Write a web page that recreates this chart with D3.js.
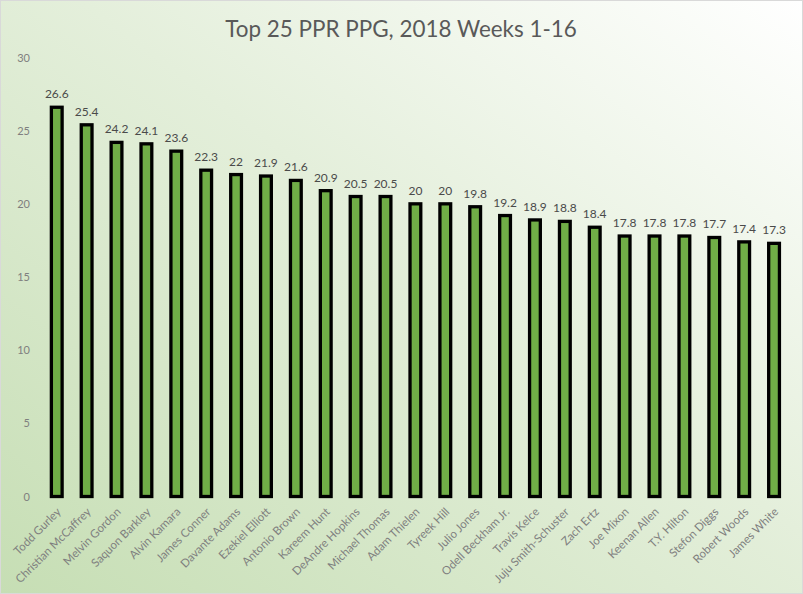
<!DOCTYPE html>
<html>
<head>
<meta charset="utf-8">
<script src="https://cdn.jsdelivr.net/npm/d3@7"></script>
<style>
  html, body { margin: 0; padding: 0; background: #fff; }
  svg { display: block; }
</style>
</head>
<body>
<script>
const players = ["Todd Gurley","Christian McCaffrey","Melvin Gordon","Saquon Barkley","Alvin Kamara","James Conner","Davante Adams","Ezekiel Elliott","Antonio Brown","Kareem Hunt","DeAndre Hopkins","Michael Thomas","Adam Thielen","Tyreek Hill","Julio Jones","Odell Beckham Jr.","Travis Kelce","Juju Smith-Schuster","Zach Ertz","Joe Mixon","Keenan Allen","T.Y. Hilton","Stefon Diggs","Robert Woods","James White"];
const ppg = [26.6,25.4,24.2,24.1,23.6,22.3,22,21.9,21.6,20.9,20.5,20.5,20,20,19.8,19.2,18.9,18.8,18.4,17.8,17.8,17.8,17.7,17.4,17.3];
const yTicks = [0,5,10,15,20,25,30];
const title = "Top 25 PPR PPG, 2018 Weeks 1-16";

const W = 803, H = 594;
const font = "Lato, 'Open Sans', sans-serif";
const svg = d3.select("body").append("svg").attr("width", W).attr("height", H);

const defs = svg.append("defs");
const grad = defs.append("linearGradient").attr("id", "bg")
  .attr("x1", "0").attr("y1", "1").attr("x2", "1").attr("y2", "0");
grad.append("stop").attr("offset", "0").attr("stop-color", "#c6deb4");
grad.append("stop").attr("offset", "0.55").attr("stop-color", "#e4efdb");
grad.append("stop").attr("offset", "1").attr("stop-color", "#ffffff");

svg.append("rect").attr("x", 0.5).attr("y", 0.5).attr("width", W - 1).attr("height", H - 1)
  .attr("fill", "url(#bg)").attr("stroke", "#d9d9d9").attr("stroke-width", 1);

const x = d3.scaleBand().domain(players).range([41.8, 789]).paddingInner(0.64).paddingOuter(0.32);
const y = d3.scaleLinear().domain([0, 30]).range([496.5, 57.5]);

// title
const t = svg.append("text").attr("x", 401).attr("y", 37).attr("text-anchor", "middle")
  .attr("font-family", font).attr("font-size", 21).attr("fill", "#595959").text(title);
const tw = t.node().getComputedTextLength();
t.attr("font-size", 21 * 352 / tw);

// y axis (labels only)
const yAxis = d3.axisLeft(y).tickValues(yTicks).tickSize(0).tickPadding(0);
const ya = svg.append("g").attr("transform", "translate(30,0)").call(yAxis);
ya.select(".domain").remove();
ya.selectAll("text").attr("font-family", font).attr("font-size", 11).attr("fill", "#7f7f7f");

// bars
svg.append("g").selectAll("rect").data(ppg).join("rect")
  .attr("x", (d, i) => x(players[i]))
  .attr("y", d => y(d))
  .attr("width", x.bandwidth())
  .attr("height", d => y(0) - y(d))
  .attr("fill", "#70ad47").attr("stroke", "#000").attr("stroke-width", 3.3);

// value labels
svg.append("g").selectAll("text").data(ppg).join("text")
  .attr("x", (d, i) => x(players[i]) + x.bandwidth() / 2)
  .attr("y", d => y(d) - 9)
  .attr("text-anchor", "middle")
  .attr("font-family", font).attr("font-size", 12).attr("fill", "#4a4a4a")
  .text(d => d);

// x axis labels
const xAxis = d3.axisBottom(x).tickSize(0).tickPadding(0);
const xa = svg.append("g").attr("transform", `translate(0,${y(0)})`).call(xAxis);
xa.select(".domain").remove();
xa.selectAll("text")
  .attr("font-family", font).attr("font-size", 11.5).attr("fill", "#7f7f7f")
  .attr("text-anchor", "end").attr("dy", null)
  .attr("transform", "translate(5,16) rotate(-45)");
</script>
</body>
</html>
